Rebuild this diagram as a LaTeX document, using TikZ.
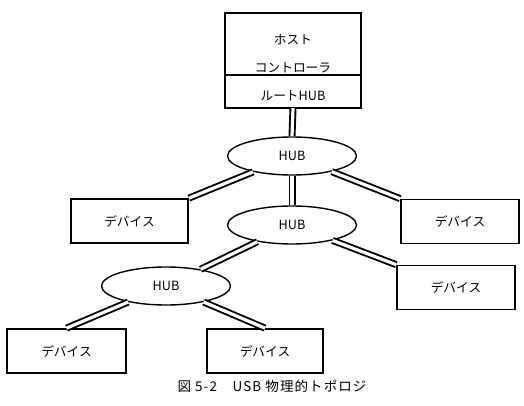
\documentclass[tikz,border=0pt]{standalone}
\usepackage{fontspec}
\setmainfont{Noto Sans CJK JP}
\newfontfamily\capfont[LetterSpace=8]{Noto Sans CJK JP}
\usetikzlibrary{shapes.geometric}
\begin{document}
\begin{tikzpicture}[x=1pt,y=-1pt,
  box/.style={draw,line width=1.7pt,minimum width=#1,minimum height=44pt,inner sep=0pt,font=\fontsize{12.7}{14}\selectfont},
  box/.default=117pt,
  hub/.style={draw,ellipse,line width=1.4pt,minimum width=129pt,minimum height=38pt,inner sep=0pt,font=\fontsize{12.7}{14}\selectfont},
  lbl/.style={inner sep=0pt,font=\fontsize{12.7}{14}\selectfont},
  cable/.style={double,double distance=3.2pt,line width=1.9pt}]
\useasboundingbox (0,0) rectangle (524,406);
\node[draw,line width=1.7pt,outer sep=0pt,minimum width=136pt,minimum height=62pt,inner sep=0pt] (host) at (293,44) {};
\node[box=136pt,outer sep=0pt,minimum height=33pt,anchor=north] (root) at (host.south) {};
\node[lbl] (t1) at (293,40) {ホスト};
\node[lbl] (t2) at (293,68) {コントローラ};
\node[lbl] (t3) at (293,96) {ルートHUB};
\node[hub] (h1) at (292,156) {HUB};
\node[hub] (h2) at (292,225) {HUB};
\node[hub] (h3) at (166,286) {HUB};
\node[box] (dL) at (129.5,221) {デバイス};
\node[box=118pt] (dR1) at (460,221.5) {デバイス};
\node[box=118pt] (dR2) at (456,287.5) {デバイス};
\node[box=119pt] (dB1) at (66.5,351) {デバイス};
\node[box=116pt] (dB2) at (265,351) {デバイス};
\node[inner sep=0pt,font=\fontsize{13.5}{15}\capfont] (cap) at (272,386) {図 5-2　USB 物理的トポロジ};
\draw[cable] (root.south) -- (h1.north);
\draw[cable] (h1.south) -- (h2.north);
\draw[cable] (h1) -- (dL.north east);
\draw[cable] (h1) -- (dR1.north west);
\draw[cable] (h2) -- (dR2.north west);
\draw[cable] (h2) -- (h3);
\draw[cable] (h3) -- (dB1.north);
\draw[cable] (h3) -- (dB2.north);
\end{tikzpicture}
\end{document}
